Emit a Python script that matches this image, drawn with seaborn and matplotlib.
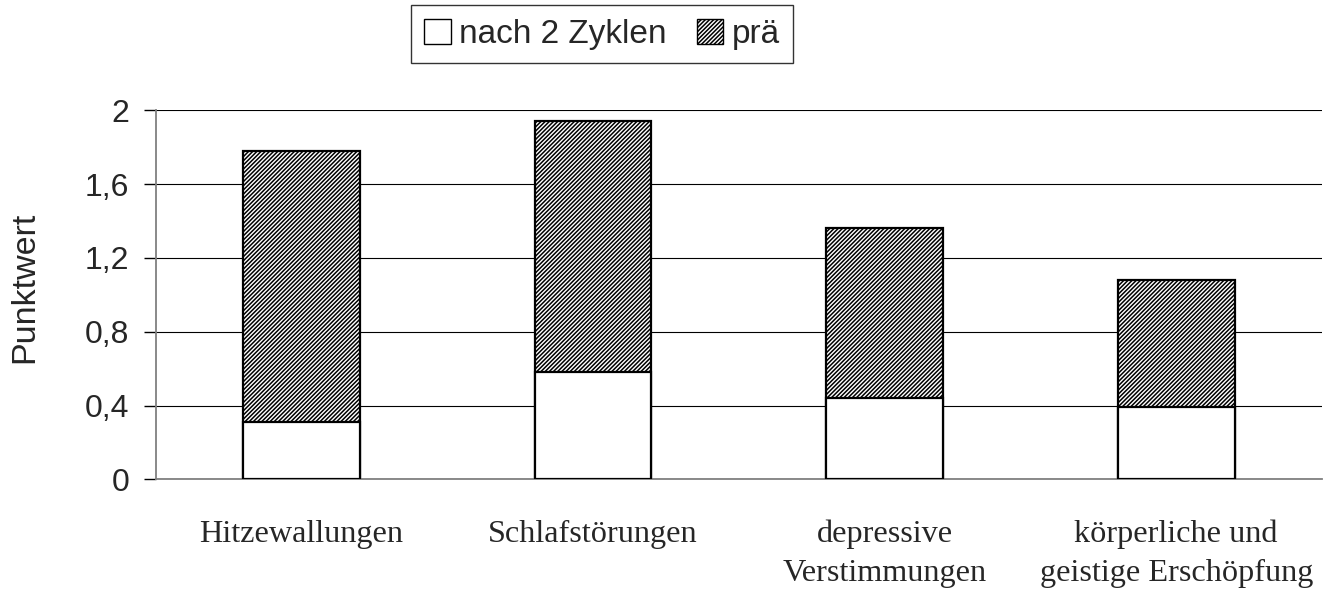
import numpy as np
import pandas as pd
import seaborn as sns
import matplotlib.pyplot as plt
from matplotlib.patches import Patch
from matplotlib.ticker import FixedLocator

# values
categories = ["Hitzewallungen", "Schlafstörungen",
              "depressive\nVerstimmungen", "körperliche und\ngeistige Erschöpfung"]
nach_2_zyklen = [0.31, 0.58, 0.44, 0.39]
prae = [1.78, 1.94, 1.36, 1.08]
y_ticks = [0, 0.4, 0.8, 1.2, 1.6, 2.0]
y_tick_labels = ["0", "0,4", "0,8", "1,2", "1,6", "2"]

sns.set_style("white")
plt.rcParams["font.family"] = ["Liberation Sans", "DejaVu Sans"]
plt.rcParams["hatch.linewidth"] = 1.1
plt.rcParams["hatch.color"] = "black"

df = pd.DataFrame({"kategorie": categories, "nach": nach_2_zyklen, "prae": prae})

fig = plt.figure(figsize=(13.26, 5.94), dpi=100)
ax = fig.add_axes([0.1174, 0.1931, 0.8796, 0.6212])

# prä bar (hatched) first, then the post-treatment value drawn over it
sns.barplot(data=df, x="kategorie", y="prae", order=categories, color="white",
            width=0.4, edgecolor="black", linewidth=1.6, hatch="////////", ax=ax, zorder=2)
sns.barplot(data=df, x="kategorie", y="nach", order=categories, color="white",
            width=0.4, edgecolor="black", linewidth=1.6, ax=ax, zorder=3)

ax.set_xlim(-0.5, len(categories) - 0.5)
ax.set_ylim(0, 2)
ax.set_yticks(y_ticks)
ax.set_yticklabels(y_tick_labels, fontsize=23)
ax.yaxis.grid(True, color="black", linewidth=0.8)
ax.set_axisbelow(True)

ax.set_xlabel("")
ax.set_ylabel("Punktwert", fontsize=24.5)
ax.yaxis.set_label_coords(-0.099, 0.52)
ax.yaxis.label.set_va("bottom")
ax.tick_params(axis="x", which="major", length=0, pad=29)
for lab in ax.get_xticklabels():
    lab.set_fontfamily(["Liberation Serif", "DejaVu Serif"])
    lab.set_fontsize(23.2)
    lab.set_linespacing(1.45)
ax.xaxis.set_minor_locator(FixedLocator(np.arange(0.5, len(categories), 1.0)))
ax.tick_params(axis="x", which="minor", length=9, width=1.2, color="#808080", direction="out")
ax.tick_params(axis="y", length=9, width=1.0, color="black", direction="out", pad=10, left=True)

for side in ["top", "right"]:
    ax.spines[side].set_visible(False)
for side in ["left", "bottom"]:
    ax.spines[side].set_color("#808080")
    ax.spines[side].set_linewidth(1.3)

handles = [Patch(facecolor="white", edgecolor="black", linewidth=1.0, label="nach 2 Zyklen"),
           Patch(facecolor="white", edgecolor="black", linewidth=1.0, hatch="////////", label="prä")]
leg = fig.legend(handles=handles, loc="center", bbox_to_anchor=(0.454, 0.942), ncol=2,
                 fontsize=24, frameon=True, fancybox=False, handlelength=0.8,
                 handleheight=0.8, handletextpad=0.25, columnspacing=0.9,
                 borderpad=0.4, borderaxespad=0)
leg.get_frame().set_edgecolor("black")
leg.get_frame().set_linewidth(1.0)

fig.savefig("out.png", dpi=100)
